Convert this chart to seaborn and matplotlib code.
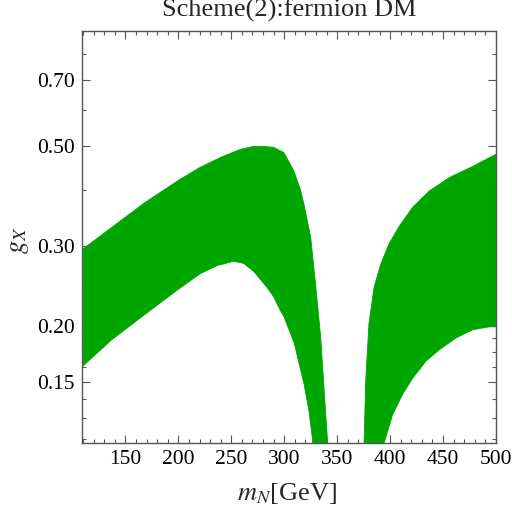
import numpy as np
import pandas as pd
import matplotlib
matplotlib.use("Agg")
import matplotlib.pyplot as plt
import matplotlib.ticker as mticker
import seaborn as sns

# ---- data ----
left_upper_x = [110, 136.7, 168.4, 200, 220.7, 239.7, 258.6, 270, 279, 290, 299.6, 304.4, 309, 315.4,
                318.6, 325, 329.6, 334.4, 337.5, 340.7, 342]
left_upper_y = [0.296, 0.33, 0.375, 0.42, 0.449, 0.472, 0.492, 0.499, 0.50, 0.497, 0.484, 0.462, 0.441, 0.40,
                0.372, 0.314, 0.247, 0.189, 0.146, 0.113, 0.10]
left_lower_x = [110, 136.7, 168.4, 200, 220.7, 236.6, 252.3, 261.7, 271.2, 283.9, 290, 296.5, 299.6,
                306, 309.5, 314, 318.6, 323.3, 326.5, 328]
left_lower_y = [0.163, 0.186, 0.212, 0.241, 0.261, 0.272, 0.278, 0.275, 0.264, 0.243, 0.232, 0.216, 0.21,
                0.192, 0.183, 0.165, 0.149, 0.13, 0.113, 0.10]

right_upper_x = [375.2, 375.4, 377, 380, 384.9, 391.2, 399, 408.5, 421.2, 437, 455.9, 478, 500]
right_upper_y = [0.10, 0.11, 0.152, 0.202, 0.244, 0.274, 0.304, 0.332, 0.366, 0.398, 0.426, 0.451, 0.48]
right_lower_x = [392.5, 394.3, 402.3, 411.7, 421.2, 433.8, 446.4, 462.2, 478, 493.8, 500]
right_lower_y = [0.10, 0.11, 0.127, 0.141, 0.153, 0.167, 0.177, 0.188, 0.196, 0.199, 0.199]

x_ticks = [150, 200, 250, 300, 350, 400, 450, 500]
y_ticks = [0.15, 0.20, 0.30, 0.50, 0.70]
y_minor = [0.1125, 0.125, 0.1375, 0.1625, 0.175, 0.1875, 0.25, 0.40, 0.60, 0.80]

title = "Scheme(2):fermion DM"
xlabel = "$m_N$[GeV]"
ylabel = "$g_X$"

GREEN = "#00a600"

sns.set_theme(style="ticks")
plt.rcParams["font.family"] = ["Liberation Serif", "DejaVu Serif"]
plt.rcParams["mathtext.fontset"] = "stix"

fig = plt.figure(figsize=(5.12, 5.12), dpi=100)
ax = fig.add_axes([82/512, 1-443/512, (496-82)/512, (443-31)/512])

for ux, uy, lx, ly in [(left_upper_x, left_upper_y, left_lower_x, left_lower_y),
                       (right_upper_x, right_upper_y, right_lower_x, right_lower_y)]:
    px = list(ux) + list(lx)[::-1]
    py = list(uy) + list(ly)[::-1]
    ax.fill(px, py, color=GREEN, lw=0)
    df = pd.DataFrame({"x": list(ux) + list(lx), "y": list(uy) + list(ly),
                       "edge": ["u"] * len(ux) + ["l"] * len(lx)})
    sns.lineplot(data=df, x="x", y="y", units="edge", estimator=None, sort=False,
                 color=GREEN, lw=0.6, ax=ax, legend=False)

ax.set_yscale("log")
ax.set_xlim(109, 500)
ax.set_ylim(0.11, 0.90)
ax.set_xticks(x_ticks)
ax.set_xticklabels([str(v) for v in x_ticks])
ax.xaxis.set_minor_locator(mticker.MultipleLocator(10))
ax.set_yticks(y_ticks)
ax.set_yticklabels([f"{v:.2f}" for v in y_ticks])
ax.set_yticks(y_minor, minor=True)
ax.yaxis.set_minor_formatter(mticker.NullFormatter())
ax.set_xlabel("")
ax.set_ylabel("")

ax.tick_params(which="both", direction="in", top=True, right=True, labelsize=15.5,
               colors="#555555", labelcolor="black", width=0.8)
ax.tick_params(which="major", length=6, pad=5)
ax.tick_params(which="minor", length=3)
for s in ax.spines.values():
    s.set_color("#555555")
    s.set_linewidth(1.0)

fig.text(289/512, 1-17/512, title, ha="center", va="baseline", fontsize=19)
fig.text(287/512, 1-500/512, xlabel, ha="center", va="baseline", fontsize=19)
fig.text(20/512, 1-240/512, ylabel, ha="center", va="center", rotation=90, fontsize=19)

fig.savefig("out.png", dpi=100)
